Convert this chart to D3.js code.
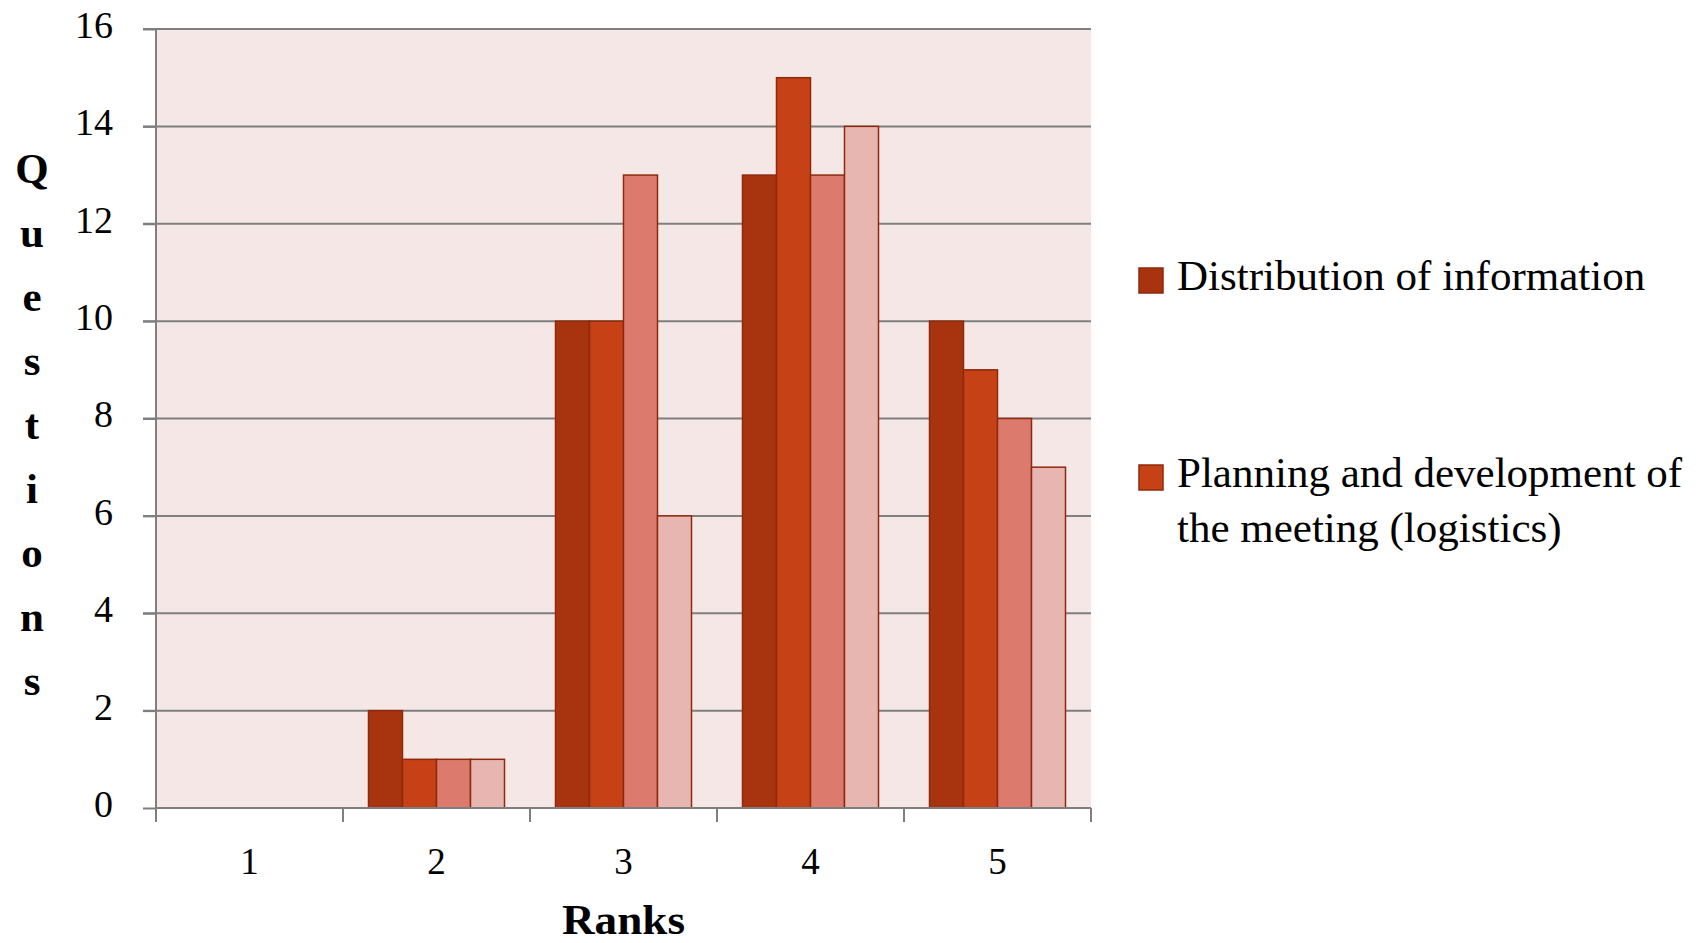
<!DOCTYPE html>
<html><head><meta charset="utf-8">
<script src="https://cdn.jsdelivr.net/npm/d3@7"></script>
<style>html,body{margin:0;padding:0;background:#fff;}svg{display:block;}</style>
</head><body>
<svg id="c" width="1700" height="943"></svg>
<script>
const categories = ["1","2","3","4","5"];
const seriesNames = ["Distribution of information","Planning and development of the meeting (logistics)","Series 3","Series 4"];
const series1 = [0,2,10,13,10];
const series2 = [0,1,10,15,9];
const series3 = [0,1,13,13,8];
const series4 = [0,1,6,14,7];
const yTicks = [0,2,4,6,8,10,12,14,16];
const legendLines = [["Distribution of information"],["Planning and development of","the meeting (logistics)"]];
const colors = ["#A7340F","#C64216","#DC7B6D","#E8B6B1"];

const allSeries = [series1,series2,series3,series4];
const svg = d3.select("#c");
const L=156,R=1091,T=29,B=808;
const font = "'Liberation Serif', 'Times New Roman', serif";

const x = d3.scaleBand().domain(categories).range([L,R]).padding(0);
const xi = d3.scaleBand().domain(d3.range(4)).range([25.5, x.bandwidth()-25.5]).padding(0);
const y = d3.scaleLinear().domain([0,16]).range([B,T]);

svg.append("rect").attr("x",L).attr("y",T).attr("width",R-L).attr("height",B-T).attr("fill","#F6E7E7");

// gridlines
svg.append("g").selectAll("line").data(yTicks.filter(d=>d>0)).join("line")
  .attr("x1",L-13).attr("x2",R).attr("y1",d=>y(d)).attr("y2",d=>y(d))
  .attr("stroke","#7f7f7f").attr("stroke-width",2);

// bars
const groups = svg.append("g").selectAll("g").data(categories).join("g")
  .attr("transform",d=>`translate(${x(d)},0)`);
groups.selectAll("rect").data((c,ci)=>allSeries.map((s,si)=>({si,v:s[ci]}))).join("rect")
  .filter(d=>d.v>0)
  .attr("x",d=>xi(d.si)).attr("width",xi.bandwidth())
  .attr("y",d=>y(d.v)).attr("height",d=>y(0)-y(d.v))
  .attr("fill",d=>colors[d.si]).attr("stroke","#8E2A0C").attr("stroke-width",1.5);

// y axis
const yAxis = d3.axisLeft(y).tickValues(yTicks).tickSize(13).tickPadding(30).tickFormat(d3.format("d"));
const gy = svg.append("g").attr("transform",`translate(${L},0)`).call(yAxis);
gy.select(".domain").attr("stroke","#7f7f7f").attr("stroke-width",2).attr("d",`M-13,${T}H0V${B}`);
gy.selectAll(".tick line").attr("stroke","#7f7f7f").attr("stroke-width",2);
gy.selectAll(".tick text").attr("font-family",font).attr("font-size",38).attr("fill","#000").attr("dy","0.22em");

// x axis
const xAxis = d3.axisBottom(x).tickSize(0).tickPadding(0);
const gx = svg.append("g").attr("transform",`translate(0,${B})`).call(xAxis);
gx.select(".domain").attr("stroke","#7f7f7f").attr("stroke-width",2).attr("d",`M${L},0H${R}`);
gx.selectAll(".tick text").attr("font-family",font).attr("font-size",37).attr("fill","#000").attr("y",66).attr("dy",0);
gx.append("g").selectAll("line").data(categories.map(c=>x(c)).concat([R])).join("line")
  .attr("x1",d=>d).attr("x2",d=>d).attr("y1",0).attr("y2",14)
  .attr("stroke","#7f7f7f").attr("stroke-width",2);

// axis titles
svg.append("text").attr("x",(L+R)/2).attr("y",934).attr("text-anchor","middle")
  .attr("font-family",font).attr("font-weight","bold").attr("font-size",42)
  .attr("textLength",123).attr("lengthAdjust","spacingAndGlyphs").text("Ranks");
const yTitle = "Questions".split("");
svg.append("g").selectAll("text").data(yTitle).join("text")
  .attr("x",32).attr("y",(d,i)=>183+i*64).attr("text-anchor","middle")
  .attr("font-family",font).attr("font-weight","bold").attr("font-size",43).text(d=>d);

// legend
const legY = [290,487];
const lg = svg.append("g").selectAll("g").data(legendLines).join("g");
lg.append("rect").attr("x",1139).attr("y",(d,i)=>legY[i]-22).attr("width",24).attr("height",25)
  .attr("fill",(d,i)=>colors[i]).attr("stroke","#8E2A0C").attr("stroke-width",1.5);
lg.each(function(lines,i){
  d3.select(this).selectAll("text").data(lines).join("text")
    .attr("x",1177).attr("y",(d,j)=>legY[i]+j*55)
    .attr("font-family",font).attr("font-size",43).attr("fill","#000").text(d=>d);
});
</script>
</body></html>
